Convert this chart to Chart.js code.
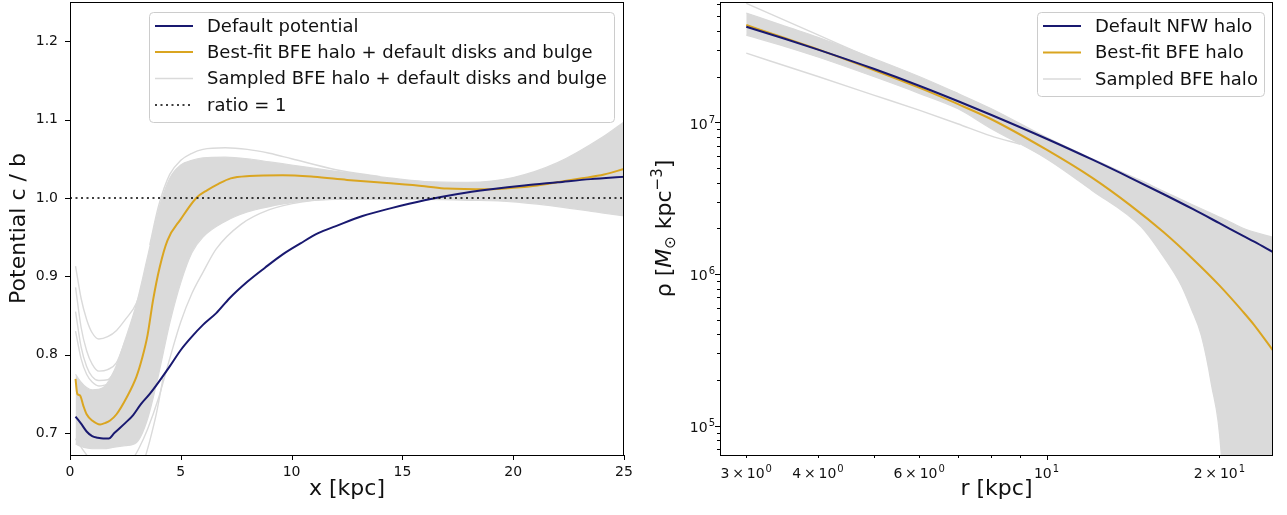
<!DOCTYPE html>
<html>
<head>
<meta charset="utf-8">
<script src="https://cdn.jsdelivr.net/npm/chart.js@4.4.0/dist/chart.umd.min.js"></script>
<style>
  body { margin: 0; background: #fff; }
  #wrap { position: relative; width: 1287px; height: 515px; }
  .panel { position: absolute; top: 0; height: 515px; }
  #left { left: 0; width: 640px; }
  #right { left: 640px; width: 647px; }
</style>
</head>
<body>
<div id="wrap">
  <div class="panel" id="left"><canvas id="ratioChart" width="640" height="515"></canvas></div>
  <div class="panel" id="right"><canvas id="densityChart" width="647" height="515"></canvas></div>
</div>
<script>
// ---------- left panel: potential axis ratio c/b vs x ----------
const ratioX = [0, 25];
const ratioY = [1, 1];

const defaultPotX = [0.25, 0.5, 0.75, 1.0, 1.25, 1.5, 1.75, 2.0, 2.5, 2.85, 3.2, 3.6, 4.0, 4.5, 5.0, 5.5, 6.0, 6.6, 7.2, 8.0, 8.8, 9.6, 10.4, 11.2, 12.0, 13.2, 14.5, 16.0, 17.5, 19.0, 20.5, 22.0, 23.5, 25.0];
const defaultPotY = [0.721, 0.712, 0.702, 0.696, 0.694, 0.693, 0.693, 0.700, 0.713, 0.723, 0.737, 0.750, 0.765, 0.785, 0.806, 0.823, 0.838, 0.853, 0.872, 0.893, 0.911, 0.928, 0.942, 0.955, 0.964, 0.977, 0.987, 0.997, 1.005, 1.011, 1.016, 1.020, 1.024, 1.027];

const bestPotX = [0.25, 0.33, 0.45, 0.6, 0.75, 1.0, 1.36, 1.6, 1.81, 2.1, 2.55, 3.0, 3.25, 3.5, 3.75, 4.05, 4.4, 5.0, 5.7, 6.2, 6.7, 7.25, 8.1, 9.6, 11.0, 12.5, 14.3, 16.0, 17.0, 18.9, 20.0, 21.1, 22.0, 23.1, 24.1, 25.0];
const bestPotY = [0.769, 0.750, 0.748, 0.735, 0.724, 0.716, 0.711, 0.713, 0.716, 0.724, 0.745, 0.772, 0.795, 0.825, 0.870, 0.912, 0.946, 0.973, 1.000, 1.010, 1.018, 1.025, 1.028, 1.029, 1.027, 1.023, 1.019, 1.015, 1.012, 1.011, 1.013, 1.016, 1.020, 1.025, 1.030, 1.037];

// envelope of the bulk of the sampled curves
const potBandX = [0.25, 0.5, 0.75, 1.0, 1.5, 2.0, 2.5, 3.0, 3.5, 4.0, 4.5, 5.0, 5.5, 6.0, 7.0, 8.0, 9.0, 10, 12, 14, 16, 18, 20, 22, 24, 25];
const potBandHi = [0.775, 0.765, 0.758, 0.755, 0.758, 0.780, 0.820, 0.865, 0.925, 0.985, 1.025, 1.042, 1.048, 1.051, 1.052, 1.050, 1.046, 1.042, 1.034, 1.027, 1.021, 1.020, 1.026, 1.045, 1.077, 1.097];
const potBandLo = [0.686, 0.683, 0.681, 0.680, 0.680, 0.682, 0.684, 0.688, 0.718, 0.775, 0.840, 0.892, 0.930, 0.950, 0.970, 0.982, 0.989, 0.994, 0.998, 0.998, 0.998, 0.997, 0.995, 0.989, 0.981, 0.977];

// individual sampled curves that stand apart from the bulk
const potSampleA_X = [0.25, 0.5, 0.75, 1.0, 1.3, 1.7, 2.1, 2.5, 3.0, 3.5];
const potSampleA_Y = [0.913, 0.872, 0.845, 0.828, 0.820, 0.823, 0.831, 0.845, 0.866, 0.910];
const potSampleB_X = [0.25, 0.5, 0.75, 1.0, 1.3, 1.7, 2.1, 2.5];
const potSampleB_Y = [0.886, 0.835, 0.805, 0.788, 0.779, 0.781, 0.790, 0.818];
const potSampleC_X = [0.25, 0.5, 0.75, 1.0, 1.3, 1.7, 2.1];
const potSampleC_Y = [0.855, 0.810, 0.785, 0.772, 0.767, 0.768, 0.782];
const potSampleD_X = [0.25, 0.5, 0.75, 1.0, 1.3, 1.7];
const potSampleD_Y = [0.830, 0.795, 0.775, 0.765, 0.760, 0.762];
const potSampleE_X = [0.25, 0.5, 0.75, 1.0];
const potSampleE_Y = [0.693, 0.682, 0.672, 0.662];
const potSampleF_X = [2.7, 3.1, 3.5, 4.0, 4.5, 5.0, 5.5, 6.0, 6.6, 7.7, 9.0, 10.5, 12];
const potSampleF_Y = [0.660, 0.680, 0.705, 0.745, 0.795, 0.842, 0.878, 0.905, 0.935, 0.966, 0.985, 0.995, 0.999];
const potSampleG_X = [3.3, 3.6, 3.9, 4.2];
const potSampleG_Y = [0.660, 0.690, 0.725, 0.770];
const potSampleH_X = [3.6, 4.0, 4.5, 5.0, 5.5, 6.0, 7.0, 8.0, 9.0, 10, 12, 14];
const potSampleH_Y = [0.940, 0.990, 1.030, 1.048, 1.057, 1.062, 1.064, 1.062, 1.057, 1.050, 1.036, 1.027];

const potXTicks = [0, 5, 10, 15, 20, 25];
const potYTicks = [0.7, 0.8, 0.9, 1.0, 1.1, 1.2];

// ---------- right panel: halo density profile ----------
const haloR = [3, 3.5, 4, 5, 6, 7, 8, 10, 12, 14, 16, 18, 20, 22, 23, 24.8];
const nfwRho = [4.26e7, 3.55e7, 3.01e7, 2.25e7, 1.74e7, 1.38e7, 1.12e7, 7.78e6, 5.68e6, 4.30e6, 3.35e6, 2.67e6, 2.16e6, 1.78e6, 1.63e6, 1.39e6];
const bfeRho = [4.37e7, 3.59e7, 3.02e7, 2.21e7, 1.69e7, 1.32e7, 1.05e7, 6.59e6, 4.31e6, 2.83e6, 1.88e6, 1.25e6, 8.4e5, 5.62e5, 4.6e5, 3.13e5];

const rhoBandR = [3, 3.5, 4, 5, 6, 7, 8, 10, 12, 14.62, 15.85, 17.17, 17.87, 18.6, 19.36, 20.15, 20.6, 22, 24.8];
const rhoBandHi = [5.25e7, 4.3e7, 3.63e7, 2.63e7, 2.0e7, 1.55e7, 1.23e7, 7.94e6, 5.75e6, 4.12e6, 3.56e6, 3.09e6, 2.88e6, 2.69e6, 2.51e6, 2.34e6, 2.26e6, 2.0e6, 1.74e6];
const rhoBandLo = [3.75e7, 3.16e7, 2.69e7, 2.0e7, 1.55e7, 1.23e7, 9.1e6, 5.75e6, 3.55e6, 2.04e6, 1.36e6, 8.4e5, 5.9e5, 3.93e5, 1.89e5, 6.5e4, 1e4, 1e3, 1e3];

const rhoSampleA_R = [3, 4, 5, 6, 7];
const rhoSampleA = [6.08e7, 3.76e7, 2.59e7, 1.93e7, 1.55e7];
const rhoSampleB_R = [3, 4, 5, 6, 7, 8, 9];
const rhoSampleB = [2.85e7, 2.0e7, 1.51e7, 1.2e7, 9.77e6, 8.13e6, 7.16e6];

const rhoXTicks = [3, 4, 5, 6, 7, 8, 9, 10, 20];
const rhoXMajor = [10];
// tick label pieces: [mantissa text, exponent]
const rhoXLabels = [['3\u2009×\u200910', '0'], ['4\u2009×\u200910', '0'], null, ['6\u2009×\u200910', '0'], null, null, null, ['10', '1'], ['2\u2009×\u200910', '1']];
const rhoYTicks = [7e4, 8e4, 9e4, 1e5, 2e5, 3e5, 4e5, 5e5, 6e5, 7e5, 8e5, 9e5, 1e6, 2e6, 3e6, 4e6, 5e6, 6e6, 7e6, 8e6, 9e6, 1e7, 2e7, 3e7, 4e7, 5e7, 6e7];
const rhoYMajor = [1e5, 1e6, 1e7];
const rhoYLabels = [['10', '5'], ['10', '6'], ['10', '7']];

// ---------- styling ----------
const NAVY = '#191970';
const GOLD = '#daa520';
const GREY = '#dadada';
const INK = '#111';
const FONT = '"DejaVu Sans", sans-serif';

const pts = (xs, ys) => xs.map((x, i) => ({ x: x, y: ys[i] }));

function line(data, color, width, extra) {
    return Object.assign({
        data: data,
        borderColor: color,
        borderWidth: width,
        pointRadius: 0,
        fill: false,
        cubicInterpolationMode: 'monotone'
    }, extra || {});
}

// "10" with a raised exponent, as the log-axis tick labels
function drawPow(ctx, parts, x, baseline, align) {
    ctx.font = '14px ' + FONT;
    const w1 = ctx.measureText(parts[0]).width;
    ctx.font = '10px ' + FONT;
    const w2 = ctx.measureText(parts[1]).width + 1;
    let x0 = x;
    if (align === 'center') x0 = x - (w1 + w2) / 2;
    if (align === 'right') x0 = x - (w1 + w2);
    ctx.textAlign = 'left';
    ctx.textBaseline = 'alphabetic';
    ctx.font = '14px ' + FONT;
    ctx.fillText(parts[0], x0, baseline);
    ctx.font = '10px ' + FONT;
    ctx.fillText(parts[1], x0 + w1 + 1, baseline - 6);
}

// keep the plot box where it belongs: no extra room for edge labels
function tightAxis(size, key) {
    return s => {
        s[key] = size;
        s.paddingLeft = 0; s.paddingRight = 0; s.paddingTop = 0; s.paddingBottom = 0;
    };
}

// frame, outward tick marks, axis titles and an in-axes legend
const decor = {
    id: 'decor',
    afterDraw(chart, args, opts) {
        const ctx = chart.ctx;
        const a = chart.chartArea;
        const sx = chart.scales.x, sy = chart.scales.y;
        ctx.save();
        ctx.strokeStyle = '#000';
        ctx.lineWidth = 1;
        ctx.setLineDash([]);
        sx.ticks.forEach(t => {
            const p = Math.round(sx.getPixelForValue(t.value)) + 0.5;
            const len = opts.xMajor(t.value) ? 5 : 3;
            ctx.beginPath(); ctx.moveTo(p, a.bottom); ctx.lineTo(p, a.bottom + len); ctx.stroke();
        });
        sy.ticks.forEach(t => {
            const p = Math.round(sy.getPixelForValue(t.value)) + 0.5;
            const len = opts.yMajor(t.value) ? 5 : 3;
            ctx.beginPath(); ctx.moveTo(a.left, p); ctx.lineTo(a.left - len, p); ctx.stroke();
        });
        ctx.strokeRect(a.left + 0.5, a.top + 0.5, a.right - a.left - 1, a.bottom - a.top);

        ctx.fillStyle = INK;
        if (opts.powLabels) {
            sx.ticks.forEach(t => {
                const lab = rhoXLabels[rhoXTicks.indexOf(t.value)];
                if (lab) drawPow(ctx, lab, sx.getPixelForValue(t.value), a.bottom + 23, 'center');
            });
            sy.ticks.forEach(t => {
                const k = rhoYMajor.indexOf(t.value);
                if (k >= 0) drawPow(ctx, rhoYLabels[k], a.left - 5, sy.getPixelForValue(t.value) + 6.5, 'right');
            });
        }

        // x title
        ctx.font = '22px ' + FONT;
        ctx.textAlign = 'center';
        ctx.textBaseline = 'alphabetic';
        ctx.fillText(opts.xTitle, (a.left + a.right) / 2, opts.xTitleY);

        // y title, rotated
        ctx.save();
        ctx.translate(opts.yTitleX, (a.top + a.bottom) / 2);
        ctx.rotate(-Math.PI / 2);
        const parts = opts.yTitle;
        let total = 0;
        parts.forEach(p => { ctx.font = p.font; p.w = ctx.measureText(p.text).width; total += p.w; });
        let cx = -total / 2;
        ctx.textAlign = 'left';
        parts.forEach(p => { ctx.font = p.font; ctx.fillText(p.text, cx, p.dy || 0); cx += p.w; });
        ctx.restore();

        // legend
        const L = opts.legend;
        ctx.beginPath();
        ctx.roundRect(L.x + 0.5, L.y + 0.5, L.w, L.h, 4);
        ctx.fillStyle = 'rgba(255,255,255,0.8)';
        ctx.fill();
        ctx.strokeStyle = '#cccccc';
        ctx.lineWidth = 1;
        ctx.stroke();
        ctx.font = '18px ' + FONT;
        ctx.textBaseline = 'middle';
        ctx.textAlign = 'left';
        L.items.forEach((it, i) => {
            const y = L.rows[i];
            ctx.strokeStyle = it.color;
            ctx.lineWidth = it.width;
            ctx.setLineDash(it.dash || []);
            ctx.beginPath(); ctx.moveTo(L.hx, y); ctx.lineTo(L.hx + 38, y); ctx.stroke();
            ctx.setLineDash([]);
            ctx.fillStyle = INK;
            ctx.fillText(it.label, L.hx + 52, y + 1);
        });
        ctx.restore();
    }
};

const tickFont = { family: FONT, size: 14 };

// ---------- left chart ----------
new Chart(document.getElementById('ratioChart'), {
    type: 'line',
    data: {
        datasets: [
            line(pts(ratioX, ratioY), '#000', 1.6, { borderDash: [2, 3.5], cubicInterpolationMode: 'default' }),
            line(pts(defaultPotX, defaultPotY), NAVY, 2),
            line(pts(bestPotX, bestPotY), GOLD, 2),
            line(pts(potSampleA_X, potSampleA_Y), GREY, 1.4),
            line(pts(potSampleB_X, potSampleB_Y), GREY, 1.4),
            line(pts(potSampleC_X, potSampleC_Y), GREY, 1.4),
            line(pts(potSampleD_X, potSampleD_Y), GREY, 1.4),
            line(pts(potSampleE_X, potSampleE_Y), GREY, 1.4),
            line(pts(potSampleF_X, potSampleF_Y), GREY, 1.4),
            line(pts(potSampleG_X, potSampleG_Y), GREY, 1.4),
            line(pts(potSampleH_X, potSampleH_Y), GREY, 1.4),
            line(pts(potBandX, potBandHi), GREY, 1.2, { fill: '+1', backgroundColor: GREY }),
            line(pts(potBandX, potBandLo), GREY, 1.2)
        ]
    },
    options: {
        responsive: false,
        animation: false,
        events: [],
        layout: { padding: { top: 2, right: 16, left: 0, bottom: 0 } },
        scales: {
            x: {
                type: 'linear', min: 0, max: 25,
                grid: { display: false, drawTicks: false },
                border: { display: false },
                afterBuildTicks: s => { s.ticks = potXTicks.map(v => ({ value: v })); },
                afterFit: tightAxis(60, 'height'),
                ticks: { font: tickFont, color: INK, padding: 9, maxRotation: 0, autoSkip: false,
                         callback: v => String(v) }
            },
            y: {
                type: 'linear', min: 0.672, max: 1.25,
                grid: { display: false, drawTicks: false },
                border: { display: false },
                afterBuildTicks: s => { s.ticks = potYTicks.map(v => ({ value: v })); },
                afterFit: tightAxis(70, 'width'),
                ticks: { font: tickFont, color: INK, padding: 12, autoSkip: false,
                         callback: v => v.toFixed(1) }
            }
        },
        plugins: {
            legend: { display: false },
            tooltip: { enabled: false },
            decor: {
                xMajor: () => true,
                yMajor: () => true,
                xTitle: 'x [kpc]',
                xTitleY: 495,
                yTitleX: 25,
                yTitle: [{ text: 'Potential c / b', font: '22px ' + FONT }],
                legend: {
                    x: 149, y: 12, w: 465, h: 110, hx: 155,
                    rows: [26, 52, 78.5, 105],
                    items: [
                        { label: 'Default potential', color: NAVY, width: 2 },
                        { label: 'Best-fit BFE halo + default disks and bulge', color: GOLD, width: 2 },
                        { label: 'Sampled BFE halo + default disks and bulge', color: GREY, width: 1.5 },
                        { label: 'ratio = 1', color: '#000', width: 1.6, dash: [2, 3.5] }
                    ]
                }
            }
        }
    },
    plugins: [decor]
});

// ---------- right chart ----------
new Chart(document.getElementById('densityChart'), {
    type: 'line',
    data: {
        datasets: [
            line(pts(haloR, nfwRho), NAVY, 2),
            line(pts(haloR, bfeRho), GOLD, 2),
            line(pts(rhoSampleA_R, rhoSampleA), GREY, 1.4),
            line(pts(rhoSampleB_R, rhoSampleB), GREY, 1.4),
            line(pts(rhoBandR, rhoBandHi), GREY, 1.2, { fill: '+1', backgroundColor: GREY }),
            line(pts(rhoBandR, rhoBandLo), GREY, 1.2)
        ]
    },
    options: {
        responsive: false,
        animation: false,
        events: [],
        layout: { padding: { top: 2, right: 14, left: 0, bottom: 0 } },
        scales: {
            x: {
                type: 'logarithmic', min: 2.7, max: 24.8,
                grid: { display: false, drawTicks: false },
                border: { display: false },
                afterBuildTicks: s => { s.ticks = rhoXTicks.map(v => ({ value: v })); },
                afterFit: tightAxis(60, 'height'),
                ticks: { display: false }
            },
            y: {
                type: 'logarithmic', min: 6.4e4, max: 6.2e7,
                grid: { display: false, drawTicks: false },
                border: { display: false },
                afterBuildTicks: s => { s.ticks = rhoYTicks.map(v => ({ value: v })); },
                afterFit: tightAxis(80, 'width'),
                ticks: { display: false }
            }
        },
        plugins: {
            legend: { display: false },
            tooltip: { enabled: false },
            decor: {
                powLabels: true,
                xMajor: v => rhoXMajor.includes(v),
                yMajor: v => rhoYMajor.includes(v),
                xTitle: 'r [kpc]',
                xTitleY: 495,
                yTitleX: 31,
                yTitle: [
                    { text: 'ρ [', font: '22px ' + FONT },
                    { text: 'M', font: 'italic 22px ' + FONT },
                    { text: '⊙', font: '15px ' + FONT, dy: 4 },
                    { text: ' kpc', font: '22px ' + FONT },
                    { text: '−3', font: '15px ' + FONT, dy: -9 },
                    { text: ']', font: '22px ' + FONT }
                ],
                legend: {
                    x: 397, y: 12, w: 227, h: 84, hx: 403,
                    rows: [26, 52.5, 79],
                    items: [
                        { label: 'Default NFW halo', color: NAVY, width: 2 },
                        { label: 'Best-fit BFE halo', color: GOLD, width: 2 },
                        { label: 'Sampled BFE halo', color: GREY, width: 1.5 }
                    ]
                }
            }
        }
    },
    plugins: [decor]
});
</script>
</body>
</html>
